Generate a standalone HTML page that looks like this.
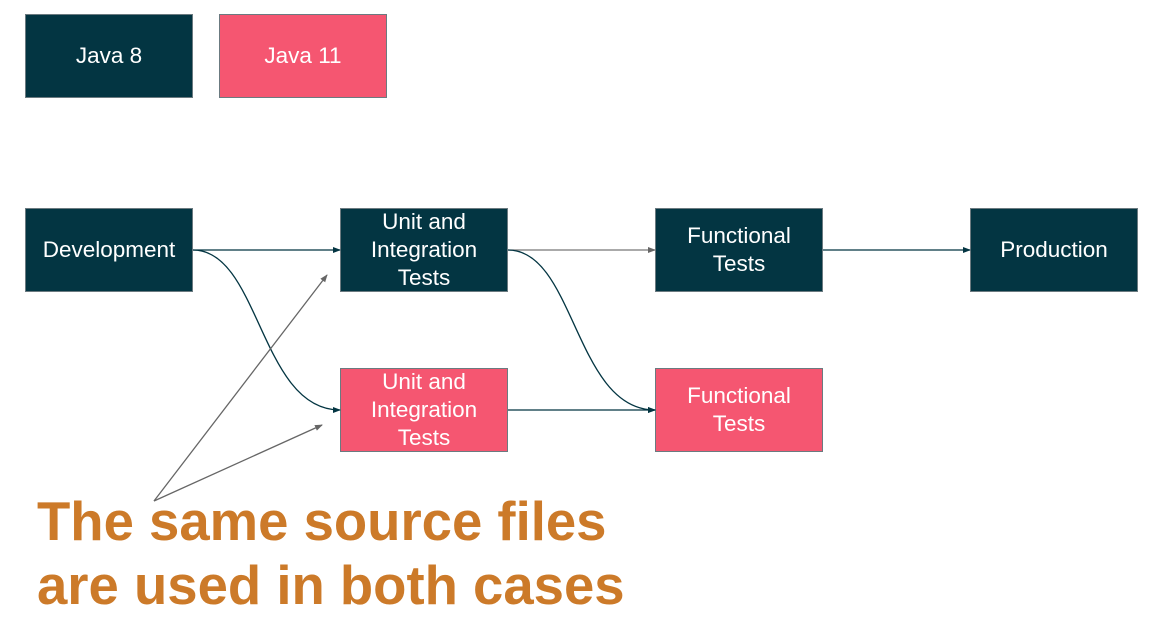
<!DOCTYPE html>
<html><head><style>
body{margin:0;width:1155px;height:621px;background:#fff;position:relative;overflow:hidden;font-family:"Liberation Sans",Arial,sans-serif}
.b{position:absolute;width:168px;height:84px;border:1px solid #6b7a80;box-sizing:border-box;color:#fff;font-size:22.5px;line-height:28px;display:flex;align-items:center;justify-content:center;text-align:center}
.d{background:#033542}.p{background:#f55671}
.t{position:absolute;left:37px;top:490px;color:#cc7a29;font-weight:bold;font-size:54.5px;line-height:64px}
</style></head><body>
<div class="b d" style="left:25px;top:14px">Java 8</div>
<div class="b p" style="left:219px;top:14px">Java 11</div>
<div class="b d" style="left:25px;top:208px">Development</div>
<div class="b d" style="left:340px;top:208px">Unit and<br>Integration<br>Tests</div>
<div class="b d" style="left:655px;top:208px">Functional<br>Tests</div>
<div class="b d" style="left:970px;top:208px">Production</div>
<div class="b p" style="left:340px;top:368px">Unit and<br>Integration<br>Tests</div>
<div class="b p" style="left:655px;top:368px">Functional<br>Tests</div>
<svg width="1155" height="621" style="position:absolute;left:0;top:0">
<defs>
<marker id="a" markerWidth="8" markerHeight="8" refX="7" refY="4" orient="auto" markerUnits="userSpaceOnUse"><path d="M0,1 L8,4 L0,7z" fill="#033542"/></marker>
<marker id="g" markerWidth="8" markerHeight="8" refX="7" refY="4" orient="auto" markerUnits="userSpaceOnUse"><path d="M0,1 L8,4 L0,7z" fill="#666"/></marker>
</defs>
<g fill="none" stroke-width="1.3">
<path d="M193,250 L340,250" stroke="#033542" marker-end="url(#a)"/>
<path d="M193,250 C260,250 260,410 340,410" stroke="#033542" marker-end="url(#a)"/>
<path d="M508,250 L655,250" stroke="#777" marker-end="url(#g)"/>
<path d="M508,250 C575,250 575,410 655,410" stroke="#033542" marker-end="url(#a)"/>
<path d="M508,410 L655,410" stroke="#033542" marker-end="url(#a)"/>
<path d="M823,250 L970,250" stroke="#033542" marker-end="url(#a)"/>
<path d="M154,501 L327,275" stroke="#666" marker-end="url(#g)"/>
<path d="M154,501 L322,425" stroke="#666" marker-end="url(#g)"/>
</g>
</svg>
<div class="t">The same source files<br>are used in both cases</div>
</body></html>
